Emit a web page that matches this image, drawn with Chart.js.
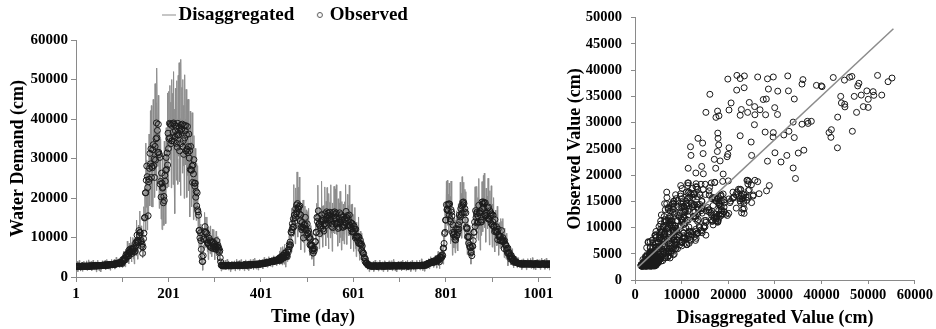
<!DOCTYPE html>
<html>
<head>
<meta charset="utf-8">
<script src="https://cdn.jsdelivr.net/npm/chart.js@4.4.1/dist/chart.umd.min.js"></script>
<style>
  body { margin: 0; background: #fff; }
  .box { position: absolute; top: 0; height: 329px; }
  #left { left: 0; width: 560px; }
  #right { left: 560px; width: 376px; }
</style>
</head>
<body>
<div class="box" id="left"><canvas id="timeChart"></canvas></div>
<div class="box" id="right"><canvas id="scatterChart"></canvas></div>
<script>
// observed daily demand (cm), day 1..1026, ten days per row
const observed = [
  2600, 2650, 2700, 2750, 2650, 2700, 2750, 2700, 2700, 2650,
  2600, 2650, 2700, 2750, 2800, 2750, 2650, 2700, 2700, 2750,
  2750, 2700, 2700, 2750, 2800, 2700, 2650, 2700, 2750, 2800,
  2800, 2750, 2700, 2800, 2850, 2800, 2750, 2800, 2800, 2850,
  2800, 2850, 2900, 2800, 2750, 2800, 2850, 2900, 2900, 2850,
  2800, 2900, 2950, 2900, 2850, 2850, 2900, 2950, 3000, 2950,
  2950, 3000, 3000, 3050, 3100, 3000, 2900, 2950, 3050, 3100,
  3150, 3100, 3000, 3050, 3100, 3150, 3200, 3150, 3100, 3150,
  3200, 3250, 3300, 3200, 3150, 3300, 3400, 3350, 3300, 3400,
  3500, 3450, 3400, 3500, 3600, 3650, 3700, 3600, 3500, 3650,
  3400, 4400, 4000, 4200, 4650, 4250, 4850, 4350, 5600, 5050,
  5400, 5950, 5250, 5900, 5300, 6850, 6100, 6450, 7150, 6300,
  7000, 5950, 7150, 6500, 7000, 7450, 6300, 7200, 6550, 8600,
  7950, 9000, 10600, 8850, 9250, 8750, 11750, 10550, 11300, 11250,
  8950, 9250, 7750, 8300, 6000, 7600, 9700, 11100, 14950, 15100,
  21300, 21350, 24500, 28100, 25400, 22650, 15500, 24100, 24750, 27500,
  31300, 28650, 32450, 25200, 28000, 27650, 32200, 33500, 28200, 29850,
  25200, 33050, 29600, 35000, 39000, 35250, 37100, 31500, 38650, 31550,
  31000, 30250, 23500, 24200, 20250, 26300, 23750, 22500, 22700, 18800,
  20400, 19350, 25750, 24250, 27000, 30250, 27250, 31400, 28350, 36400,
  32500, 35000, 38900, 35250, 38700, 33750, 38400, 34450, 34500, 38800,
  36650, 39000, 34400, 38600, 35400, 37000, 38200, 33850, 36050, 32850,
  38900, 35900, 36000, 37800, 31950, 36850, 33750, 38500, 37350, 37500,
  38700, 32900, 34500, 31050, 38300, 35200, 37000, 38350, 31950, 36050,
  32400, 38100, 31500, 33000, 36200, 30100, 31950, 27200, 33050, 27150,
  27000, 28100, 23950, 28350, 26100, 29700, 23750, 23000, 23750, 20200,
  21650, 18000, 21300, 17000, 16500, 15650, 11750, 11850, 9900, 11200,
  9200, 7000, 5200, 3950, 3900, 5400, 9500, 9700, 11500, 12750,
  11300, 11350, 9450, 11000, 8750, 8500, 8650, 8250, 9800, 7900,
  9200, 7550, 7500, 8950, 8650, 8850, 7200, 8850, 7550, 7800,
  8400, 7150, 7600, 7000, 9200, 7650, 7600, 8000, 6850, 7300,
  6300, 6700, 4850, 3800, 3000, 2950, 2900, 2850, 2800, 2850,
  2900, 2850, 2800, 2900, 2950, 2900, 2850, 2850, 2900, 2950,
  3000, 2950, 2850, 2900, 2900, 2850, 2800, 2900, 2950, 2900,
  2900, 2950, 3000, 2900, 2850, 2900, 2950, 3000, 3000, 2950,
  2900, 2950, 3050, 3000, 2950, 2950, 3000, 2950, 2900, 2950,
  3000, 2950, 2950, 3000, 3050, 3100, 3100, 3000, 2950, 2950,
  3000, 3050, 3100, 3100, 3050, 3050, 3150, 3100, 3000, 3050,
  3100, 3150, 3150, 3100, 3050, 3150, 3200, 3150, 3100, 3200,
  3250, 3200, 3150, 3250, 3300, 3250, 3200, 3300, 3350, 3300,
  3300, 3350, 3400, 3350, 3350, 3450, 3500, 3450, 3450, 3550,
  3600, 3550, 3500, 3600, 3700, 3650, 3600, 3700, 3800, 3800,
  3800, 3850, 3900, 3950, 4000, 3900, 3850, 4000, 4100, 4150,
  4200, 4100, 4000, 4150, 4300, 4350, 4400, 4300, 4200, 4350,
  4850, 4300, 4850, 4200, 5150, 4650, 5000, 5500, 4900, 5450,
  4850, 6000, 5150, 5500, 6150, 5250, 5650, 5200, 6700, 6300,
  7000, 8200, 7700, 8850, 8100, 11400, 11150, 12000, 13500, 12600,
  14750, 12700, 15700, 14050, 15000, 17300, 16000, 18250, 16450, 18600,
  17450, 17200, 17800, 16000, 18000, 14200, 15700, 12600, 12000, 13800,
  12700, 12550, 9900, 13200, 12100, 13300, 15100, 12050, 11850, 10600,
  13450, 11150, 11000, 11650, 9850, 10100, 8100, 9650, 7950, 7800,
  8100, 6750, 7200, 6050, 7150, 6600, 7200, 8950, 8950, 11350,
  11250, 15100, 14050, 15000, 16750, 13350, 13400, 11000, 12900, 12400,
  14000, 15750, 14300, 14750, 12150, 14350, 11650, 13400, 16000, 13550,
  14400, 13050, 16500, 14750, 15500, 16200, 13650, 15650, 14400, 16400,
  14550, 14600, 15350, 12800, 13400, 12500, 16300, 14650, 15500, 16500,
  15050, 15950, 13500, 16250, 13600, 13400, 13800, 12300, 13900, 12600,
  16250, 13700, 13800, 15750, 14550, 15250, 12600, 15100, 12600, 13200,
  14600, 12950, 14650, 13600, 16600, 15050, 15000, 15550, 12950, 14500,
  13050, 15700, 13100, 13100, 13800, 12200, 13600, 11350, 13450, 11450,
  11500, 12950, 11750, 12150, 9900, 12100, 10200, 10000, 10250, 9200,
  10300, 8550, 10100, 8450, 8500, 9300, 8250, 8450, 6750, 7850,
  6300, 6000, 5950, 4800, 4950, 3950, 4500, 3600, 3500, 3550,
  3200, 3100, 3000, 2950, 2900, 2850, 2800, 2800, 2800, 2750,
  2750, 2800, 2800, 2750, 2700, 2800, 2850, 2800, 2750, 2800,
  2800, 2750, 2700, 2700, 2750, 2800, 2850, 2850, 2800, 2800,
  2800, 2750, 2750, 2800, 2850, 2750, 2700, 2750, 2800, 2850,
  2900, 2800, 2750, 2800, 2800, 2850, 2850, 2800, 2750, 2750,
  2800, 2800, 2850, 2800, 2750, 2800, 2800, 2850, 2900, 2850,
  2800, 2800, 2750, 2800, 2850, 2800, 2800, 2850, 2900, 2850,
  2850, 2800, 2800, 2850, 2900, 2800, 2750, 2800, 2850, 2850,
  2800, 2800, 2900, 2900, 2850, 2800, 2800, 2750, 2750, 2800,
  2800, 2850, 2900, 2850, 2850, 2800, 2800, 2850, 2950, 2900,
  2850, 2850, 2900, 2850, 2800, 2850, 2850, 2900, 2900, 2850,
  2900, 2900, 2850, 2900, 2950, 2900, 2900, 2950, 3000, 2950,
  2900, 2900, 2950, 3000, 3000, 3050, 3100, 3050, 3000, 3150,
  3300, 3400, 3500, 3450, 3400, 3550, 3700, 3650, 3600, 3700,
  3800, 3900, 4000, 3850, 3700, 3800, 3900, 4000, 4100, 4050,
  4500, 4000, 4200, 4700, 4250, 4550, 3850, 5100, 4650, 4900,
  5400, 4950, 5650, 5400, 7300, 7300, 8500, 11000, 11300, 14400,
  14400, 18300, 17000, 17200, 18350, 16750, 18500, 15750, 18500, 14750,
  14000, 17050, 16450, 15450, 11250, 13200, 10650, 10800, 11350, 9500,
  10100, 9350, 12300, 10500, 10500, 12100, 11300, 13200, 12150, 15700,
  14050, 15200, 17300, 15800, 18000, 16200, 18900, 18250, 19000, 18600,
  16450, 17300, 14400, 16250, 12600, 12200, 12400, 10150, 10300, 8550,
  10100, 7950, 7500, 7550, 6100, 6400, 5400, 7850, 7750, 9200,
  11350, 11300, 13900, 12800, 16800, 15050, 16000, 16400, 13650, 15450,
  13950, 18150, 16300, 16200, 16750, 13900, 14400, 13950, 19000, 17250,
  18500, 19000, 17650, 18750, 15750, 18800, 15500, 15500, 16200, 15050,
  17500, 14750, 17700, 14750, 14500, 16750, 15500, 16250, 13500, 15900,
  13100, 14000, 15650, 12700, 12900, 11500, 14550, 11850, 11500, 12750,
  11300, 11550, 9450, 12100, 10650, 10200, 10250, 9200, 10300, 9200,
  11750, 9500, 9000, 9950, 8950, 9050, 7200, 9200, 8250, 8000,
  8100, 6750, 7200, 6100, 7300, 6000, 6000, 6250, 5150, 5350,
  4500, 5500, 4650, 4600, 4850, 4050, 4350, 3700, 4500, 3850,
  3900, 3800, 3700, 3650, 3600, 3550, 3500, 3450, 3400, 3400,
  3400, 3350, 3300, 3300, 3350, 3300, 3250, 3250, 3300, 3350,
  3400, 3350, 3300, 3300, 3250, 3300, 3350, 3350, 3300, 3300,
  3250, 3300, 3300, 3350, 3350, 3300, 3250, 3250, 3300, 3250,
  3200, 3250, 3300, 3350, 3350, 3300, 3250, 3300, 3300, 3300,
  3300, 3250, 3250, 3200, 3200, 3250, 3300, 3300, 3250, 3300,
  3350, 3350, 3300, 3300, 3200, 3200, 3250, 3300, 3300, 3250,
  3250, 3300, 3300, 3250, 3200, 3250
];

// disaggregated daily demand (cm), same days
const disaggregated = [
  1700, 3350, 2400, 3950, 1350, 3100, 2150, 4200, 2600, 3550,
  1500, 2850, 2200, 3750, 1400, 3350, 2450, 4000, 1900, 3050,
  2000, 3550, 2550, 4100, 1650, 3250, 2200, 4350, 2800, 3850,
  1850, 3100, 2350, 3950, 1600, 3550, 2700, 4250, 2150, 3300,
  1750, 3400, 2450, 3850, 1300, 3050, 2100, 4250, 2650, 3600,
  1550, 2950, 2300, 3750, 1300, 3300, 2550, 4100, 2050, 3100,
  2050, 3700, 2700, 4250, 1800, 3400, 2300, 4450, 2950, 4000,
  2050, 3300, 2500, 4050, 1700, 3750, 3000, 4450, 2300, 3450,
  2450, 4100, 3150, 4550, 2000, 3850, 2950, 5000, 3350, 4450,
  2550, 3800, 3050, 4650, 2350, 4400, 3650, 5050, 2850, 4100,
  2400, 5450, 3500, 6500, 3050, 5040, 2600, 7050, 4650, 6650,
  3900, 9100, 4700, 7250, 3300, 8600, 6800, 5150, 10150, 6300,
  3800, 8700, 5050, 10000, 4550, 7300, 3300, 9750, 6350, 9400,
  5400, 14400, 7650, 11300, 4500, 13100, 10700, 8050, 16700, 9150,
  6450, 12950, 7800, 11900, 4800, 8950, 5500, 17800, 14350, 22500,
  11400, 33900, 17650, 29650, 11900, 28400, 16500, 14600, 36200, 22550,
  18000, 42100, 26800, 43400, 17750, 31900, 17700, 44950, 27900, 37100,
  20150, 48950, 25600, 44100, 21850, 52900, 38900, 28000, 46000, 30550,
  17350, 36950, 19750, 35000, 14650, 24900, 12000, 31300, 18250, 24400,
  13050, 34400, 17950, 30000, 13500, 37800, 29600, 22550, 46600, 28600,
  22800, 47000, 32750, 48500, 29650, 44250, 22550, 50000, 34150, 46500,
  23400, 52000, 27500, 42500, 16050, 47750, 36000, 24500, 49700, 29950,
  23450, 51050, 30600, 54250, 24150, 40100, 20600, 55100, 35800, 48000,
  26300, 50000, 28150, 43450, 19900, 51200, 39950, 28400, 47500, 32900,
  20150, 44900, 25700, 45000, 21800, 33900, 15200, 42000, 25650, 34150,
  17800, 41600, 19900, 33000, 14500, 35800, 25000, 17000, 32550, 18900,
  14300, 28800, 17300, 28200, 12700, 17100, 7600, 17350, 10900, 13400,
  5700, 10800, 3450, 4800, 1700, 7750, 8150, 6800, 16350, 9700,
  7450, 15200, 8900, 15200, 6400, 9500, 4400, 12750, 8850, 11250,
  5900, 12950, 6300, 10450, 5150, 12100, 8650, 6300, 12000, 7350,
  4350, 10050, 5850, 11600, 5350, 8350, 3700, 10300, 6350, 8650,
  4600, 9600, 3900, 4550, 1500, 4000, 2950, 2100, 4150, 2500,
  2150, 3700, 2650, 4250, 1800, 3450, 2400, 4500, 2950, 4000,
  1750, 3000, 2200, 3750, 1350, 3300, 2450, 4050, 2000, 3050,
  2000, 3650, 2700, 4100, 1550, 3300, 2350, 4500, 2900, 3850,
  1950, 3300, 2700, 4150, 1700, 3700, 2950, 4400, 2250, 3400,
  1950, 3500, 2500, 4050, 1600, 3350, 2350, 4350, 2700, 3700,
  1900, 3250, 2600, 4100, 1650, 3650, 2950, 4400, 2200, 3350,
  2350, 4000, 3000, 4450, 1900, 3700, 2750, 4800, 3150, 4250,
  2000, 3250, 2500, 4100, 1750, 3700, 2850, 4450, 2400, 3450,
  2400, 4050, 3100, 4550, 2050, 3850, 2900, 4950, 3350, 4450,
  2650, 3900, 3150, 4750, 2450, 4400, 3550, 5150, 3150, 4250,
  2750, 4400, 3450, 5000, 2550, 4150, 3100, 5350, 3850, 4900,
  3100, 4300, 3500, 5150, 2900, 4950, 4200, 5600, 3400, 4650,
  3050, 6600, 4300, 7500, 3550, 5650, 3050, 7700, 5150, 7100,
  3250, 8250, 3800, 6250, 2500, 7200, 5300, 3900, 8500, 5350,
  4350, 10500, 6950, 13350, 6400, 11400, 6300, 17400, 11600, 17150,
  10300, 23400, 11750, 18250, 8400, 22550, 18350, 14150, 26600, 17100,
  10100, 22700, 13050, 25300, 11350, 16750, 6850, 18050, 10450, 15600,
  8900, 19500, 8600, 14150, 6250, 17950, 14300, 9450, 17000, 10400,
  8150, 16550, 10000, 17400, 8100, 11550, 5500, 13000, 8100, 10450,
  4500, 11100, 5050, 7650, 2800, 8750, 6900, 5650, 13500, 9000,
  7750, 18650, 12350, 23250, 11000, 15900, 7150, 17700, 10700, 16400,
  10100, 24250, 12750, 18000, 7550, 18050, 12950, 10700, 22800, 13550,
  7850, 19150, 11850, 22650, 10050, 15900, 7100, 21150, 13900, 18900,
  9900, 23350, 11100, 16300, 6500, 18750, 15100, 11150, 22950, 13800,
  10900, 22300, 13650, 23350, 10800, 15800, 7800, 19800, 13350, 18750,
  8700, 21700, 9950, 16650, 6800, 19100, 13450, 9200, 18450, 10800,
  8350, 19050, 12050, 23400, 11350, 17350, 8250, 20900, 12850, 18050,
  10450, 23250, 11350, 16500, 7150, 18350, 14250, 10100, 18500, 11100,
  6450, 15850, 9900, 17600, 7150, 11450, 5150, 13900, 8250, 11950,
  6600, 15200, 7000, 10450, 4250, 11600, 9000, 6050, 11100, 6150,
  4400, 8650, 5000, 8200, 3700, 5200, 2450, 5600, 3450, 4400,
  1950, 3150, 2350, 3800, 1350, 3300, 2450, 3950, 1850, 2900,
  1850, 3500, 2500, 3950, 1400, 3200, 2250, 4300, 2650, 3700,
  1850, 3100, 2350, 3850, 1500, 3550, 2800, 4300, 2150, 3250,
  1750, 3300, 2300, 3850, 1400, 3000, 1950, 4100, 2550, 3600,
  1800, 3000, 2250, 3800, 1400, 3450, 2650, 4100, 1950, 3050,
  2050, 3650, 2700, 4150, 1600, 3350, 2350, 4500, 2950, 3900,
  1550, 2850, 2100, 3650, 1300, 3250, 2450, 4000, 1950, 3000,
  1950, 3500, 2500, 4050, 1600, 3200, 2150, 4300, 2750, 3750,
  1850, 3150, 2550, 4050, 1600, 3550, 2750, 4200, 2100, 3250,
  1750, 3400, 2450, 3900, 1400, 3050, 2050, 4200, 2700, 3650,
  1750, 3050, 2400, 3850, 1400, 3450, 2650, 4200, 2100, 3150,
  2150, 3750, 2700, 4250, 1800, 3450, 2450, 4600, 3050, 4000,
  1650, 2950, 2300, 3850, 1450, 3500, 2750, 4200, 2050, 3300,
  2400, 4100, 3200, 4650, 2100, 3950, 3100, 5150, 3500, 4600,
  2850, 4250, 3650, 5000, 2450, 4550, 3850, 5450, 3450, 4500,
  2250, 5400, 3300, 6500, 2900, 4650, 2100, 6300, 4200, 6000,
  3300, 8400, 4300, 7200, 3250, 10100, 8650, 7550, 17750, 12300,
  10900, 24200, 15900, 24500, 13100, 21000, 11300, 23800, 16350, 20350,
  8400, 24300, 12600, 17100, 5500, 15200, 10550, 7350, 14900, 8300,
  6100, 14350, 9350, 16750, 7450, 12550, 6600, 18550, 12550, 17900,
  10450, 24000, 13450, 21150, 9800, 25400, 20000, 15050, 24000, 17100,
  9800, 22200, 12650, 21600, 8450, 12950, 5650, 15000, 8700, 11600,
  5950, 13100, 5850, 8400, 3250, 8350, 6100, 5200, 11850, 8100,
  7150, 17300, 12300, 22850, 11550, 18300, 9750, 22950, 14350, 20100,
  9300, 24950, 12100, 18450, 6800, 19100, 13450, 10550, 24150, 14600,
  11450, 25700, 16000, 26300, 12450, 18800, 8800, 22500, 13950, 20500,
  12250, 25000, 13250, 19150, 8100, 21850, 17800, 12650, 23100, 13350,
  7550, 18500, 11450, 20100, 8100, 13550, 6350, 16950, 10000, 14400,
  7900, 17900, 8200, 12950, 5500, 13750, 9700, 7250, 14800, 9000,
  7150, 14100, 8200, 14800, 7300, 10400, 4900, 12400, 8400, 10700,
  4500, 11100, 5050, 7750, 2850, 8000, 5750, 3950, 7800, 4250,
  3100, 6750, 4100, 7150, 3200, 4800, 2300, 5950, 3700, 5050,
  2950, 4150, 3350, 4800, 2350, 4300, 3450, 4900, 2750, 3850,
  2350, 3900, 2850, 4350, 1900, 3550, 2500, 4600, 3050, 4100,
  2300, 3550, 2800, 4300, 1850, 3900, 3150, 4650, 2500, 3600,
  2500, 4150, 3150, 4700, 2200, 3850, 2800, 4900, 3350, 4300,
  1950, 3300, 2650, 4200, 1800, 3750, 2900, 4450, 2350, 3450,
  2400, 3950, 2950, 4400, 1900, 3650, 2700, 4800, 3150, 4200,
  2400, 3700, 2950, 4450, 1950, 3950, 3200, 4750, 2650, 3700,
  2200, 3850, 2850, 4300, 1750, 3500
];

const dayTicks = [1, 101, 201, 301, 401, 501, 601, 701, 801, 901, 1001];
const dayLabels = [1, 201, 401, 601, 801, 1001];

// trend line in the scatter
const trendX = [600, 55400];
const trendY = [2400, 47900];

const days = observed.map((_, i) => i + 1);

const FONT = '"Liberation Serif", "Times New Roman", serif';
const AXIS_GRAY = "#8a8a8a";
Chart.defaults.font.family = FONT;
Chart.defaults.font.weight = "bold";
Chart.defaults.color = "#000";

// small pictures for the legend markers
function lineMarker() {
  const c = document.createElement("canvas");
  c.width = 14;
  c.height = 3;
  const g = c.getContext("2d");
  g.fillStyle = "#8c8c8c";
  g.fillRect(0, 1, 14, 1);
  return c;
}
function circleMarker() {
  const c = document.createElement("canvas");
  c.width = 8;
  c.height = 8;
  const g = c.getContext("2d");
  g.strokeStyle = "#555";
  g.lineWidth = 1;
  g.beginPath();
  g.arc(4, 4, 2.5, 0, Math.PI * 2);
  g.stroke();
  return c;
}
const markers = { Disaggregated: lineMarker(), Observed: circleMarker() };

const tickFont = { size: 15, weight: "bold" };
const titleFont = { size: 18, weight: "bold" };

new Chart(document.getElementById("timeChart"), {
  type: "scatter",
  data: {
    datasets: [
      {
        label: "Observed",
        data: days.map((d, i) => ({ x: d, y: observed[i] })),
        pointRadius: 3,
        pointBorderWidth: 1,
        borderColor: "#1a1a1a",
        backgroundColor: "rgba(0,0,0,0)",
        showLine: false,
      },
      {
        label: "Disaggregated",
        data: days.map((d, i) => ({ x: d, y: disaggregated[i] })),
        pointRadius: 0,
        borderColor: "#8c8c8c",
        borderWidth: 1,
        showLine: true,
      },
    ],
  },
  options: {
    responsive: true,
    maintainAspectRatio: false,
    animation: false,
    layout: { padding: { left: 26, right: 10, top: -19.5, bottom: 0 } },
    plugins: {
      tooltip: { enabled: false },
      legend: {
        position: "top",
        labels: {
          usePointStyle: true,
          boxWidth: 1,
          padding: 25,
          color: "#000",
          font: { size: 19, weight: "bold" },
          generateLabels: (chart) =>
            Chart.defaults.plugins.legend.labels
              .generateLabels(chart)
              .map((item) => ({ ...item, pointStyle: markers[item.text] })),
          sort: (a, b) => b.datasetIndex - a.datasetIndex,
        },
      },
    },
    scales: {
      x: {
        type: "linear",
        min: 1,
        max: 1026,
        afterBuildTicks: (scale) => {
          scale.ticks = dayTicks.map((v) => ({ value: v }));
        },
        afterFit: (scale) => {
          scale.height = 52;
        },
        ticks: {
          autoSkip: false,
          maxRotation: 0,
          padding: 3,
          font: tickFont,
          color: "#000",
          callback: (v) => (dayLabels.includes(v) ? String(v) : ""),
        },
        grid: { drawOnChartArea: false, tickLength: 5, color: AXIS_GRAY },
        border: { color: AXIS_GRAY },
        title: { display: true, text: "Time (day)", font: titleFont, color: "#000", padding: { top: 0, bottom: 1 } },
      },
      y: {
        min: 0,
        max: 60000,
        afterFit: (scale) => {
          scale.width = 50;
        },
        ticks: { stepSize: 10000, padding: 3, font: tickFont, color: "#000", callback: (v) => String(v) },
        grid: { drawOnChartArea: false, tickLength: 5, color: AXIS_GRAY },
        border: { color: AXIS_GRAY },
        title: { display: true, text: "Water Demand (cm)", font: titleFont, color: "#000", padding: { top: -18, bottom: 0 } },
      },
      // empty strip between legend and plot
      gap: {
        type: "linear",
        position: "top",
        display: true,
        grid: { display: false },
        border: { display: false },
        ticks: { display: false },
        afterFit: (scale) => {
          scale.height = 5.5;
        },
      },
    },
  },
});

new Chart(document.getElementById("scatterChart"), {
  type: "scatter",
  data: {
    datasets: [
      {
        label: "Trend",
        data: trendX.map((x, i) => ({ x: x, y: trendY[i] })),
        showLine: true,
        pointRadius: 0,
        borderColor: "#8c8c8c",
        borderWidth: 1.5,
      },
      {
        label: "Observed vs Disaggregated",
        data: disaggregated.map((d, i) => ({ x: d, y: observed[i] })),
        pointRadius: 3,
        pointBorderWidth: 1,
        borderColor: "#1a1a1a",
        backgroundColor: "rgba(0,0,0,0)",
      },
    ],
  },
  options: {
    responsive: true,
    maintainAspectRatio: false,
    animation: false,
    layout: { padding: { left: 0, right: 19, top: 14, bottom: 0 } },
    plugins: { legend: { display: false }, tooltip: { enabled: false } },
    scales: {
      x: {
        min: 0,
        max: 60000,
        afterFit: (scale) => {
          scale.height = 49;
        },
        ticks: { stepSize: 10000, padding: 3, maxRotation: 0, font: { size: 14.5, weight: "bold" }, color: "#000", callback: (v) => String(v) },
        grid: { drawOnChartArea: false, tickLength: 4, color: AXIS_GRAY },
        border: { color: AXIS_GRAY },
        title: { display: true, text: "Disaggregated Value (cm)", font: titleFont, color: "#000", padding: { top: 0, bottom: 0 } },
      },
      y: {
        min: 0,
        max: 50000,
        afterFit: (scale) => {
          scale.width = 75;
        },
        ticks: { stepSize: 5000, padding: 9, font: { size: 14.5, weight: "bold" }, color: "#000", callback: (v) => String(v) },
        grid: { drawOnChartArea: false, tickLength: 4, color: AXIS_GRAY },
        border: { color: AXIS_GRAY },
        title: { display: true, text: "Observed Value (cm)", font: titleFont, color: "#000", padding: { top: 5, bottom: 0 } },
      },
    },
  },
});
</script>
</body>
</html>
